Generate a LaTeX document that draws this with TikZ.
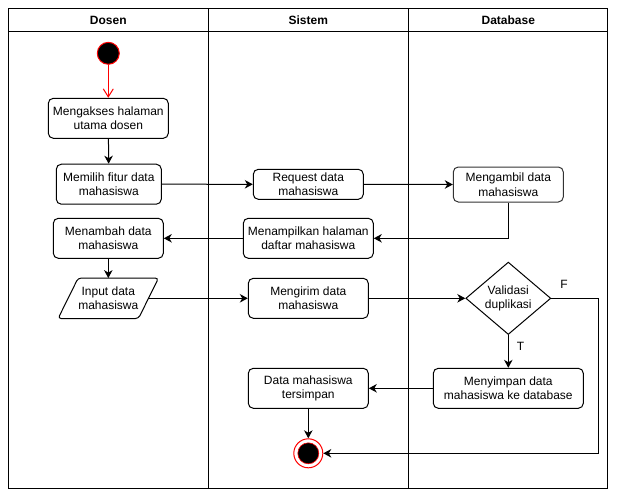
\documentclass[tikz,border=0pt]{standalone}
\usepackage{fontspec}
\setmainfont{Liberation Sans}
\usetikzlibrary{arrows.meta,shapes.geometric,calc}
\tikzset{
  act/.style={draw, rounded corners=5pt, line width=1pt, align=center, inner sep=0pt,
    font=\fontsize{12}{14.5}\selectfont},
  lane/.style={font=\bfseries\fontsize{12}{14}\selectfont},
  flow/.style={line width=1pt, -{Stealth[length=8pt,width=8.5pt,inset=2.5pt]}},
  lbl/.style={font=\fontsize{12}{14}\selectfont, inner sep=0pt},
}
\begin{document}
\begin{tikzpicture}[x=1pt,y=-1pt]
\useasboundingbox (0,0) rectangle (617,497);
% swimlanes
\draw[line width=1pt] (8.3,8.3) rectangle (607.7,488.3);
\draw[line width=1pt] (8.3,31.7) -- (607.7,31.7);
\draw[line width=1pt] (208.3,8.3) -- (208.3,488.3);
\draw[line width=1pt] (408.3,8.3) -- (408.3,488.3);
\node[lane] (hd) at (108.3,20) {Dosen};
\node[lane] (hs) at (308.3,20) {Sistem};
\node[lane] (hb) at (508.3,20) {Database};
% start
\node[circle, fill=black, draw=red, line width=1pt, minimum size=22pt, inner sep=0pt] (start) at (108.3,53.3) {};
% Dosen lane
\node[act, minimum width=120, minimum height=40] (akses) at (108.3,118.3) {Mengakses halaman\\utama dosen};
\node[act, minimum width=105, minimum height=40] (pilih) at (108.8,184.2) {Memilih fitur data\\mahasiswa};
\node[act, minimum width=110, minimum height=40] (tambah) at (108.3,238.3) {Menambah data\\mahasiswa};
\node[align=center, inner sep=0pt, minimum width=100, minimum height=40,
  font=\fontsize{12}{14.5}\selectfont] (input) at (108.3,298.3) {Input data\\mahasiswa};
\draw[line width=1pt, rounded corners=3pt]
  (input.south west) -- ($(input.north west)+(20,0)$) -- (input.north east)
  -- ($(input.south east)-(20,0)$) -- cycle;
\coordinate (inR) at ($(input.east)-(10,0)$);
% Sistem lane
\node[act, minimum width=110, minimum height=30] (req) at (308.3,184.3) {Request data\\mahasiswa};
\node[act, minimum width=130, minimum height=40] (tampil) at (308.3,238.3) {Menampilkan halaman\\daftar mahasiswa};
\node[act, minimum width=120, minimum height=40] (kirim) at (308.3,298.3) {Mengirim data\\mahasiswa};
\node[act, minimum width=120, minimum height=40] (tersimpan) at (308.3,388.3) {Data mahasiswa\\tersimpan};
\node[circle, draw=red, fill=white, line width=1pt, minimum size=29pt, inner sep=0pt] (end) at (308.3,453.3) {};
\node[circle, fill=black, draw=red, line width=0.6pt, minimum size=21pt, inner sep=0pt] (endin) at (308.3,453.3) {};
% Database lane
\node[act, draw=black!80, minimum width=110, minimum height=35] (ambil) at (508.3,184.5) {Mengambil data\\mahasiswa};
\node[diamond, draw, line width=1pt, minimum width=85, minimum height=70, inner sep=0pt, align=center,
  font=\fontsize{12}{14.5}\selectfont] (valid) at (508.3,298.3) {Validasi\\duplikasi};
\node[act, minimum width=150, minimum height=40] (simpan) at (508.3,388.3) {Menyimpan data\\mahasiswa ke database};
\coordinate (fc) at (598.3,298.3);
% connectors
\draw[red, line width=1pt, -{Straight Barb[length=8pt,width=10pt]}] (start) -- (akses);
\draw[flow] (akses) -- (pilih);
\draw[flow] (pilih.east) -- (req.west);
\draw[flow] (req.east) -- (ambil.west);
\draw[flow] (ambil.south) |- (tampil.east);
\draw[flow] (tampil.west) -- (tambah.east);
\draw[flow] (tambah.south) -- (input.north);
\draw[flow] (inR) -- (kirim.west);
\draw[flow] (kirim.east) -- (valid.west);
\draw[flow] (valid.east) -- node[lbl, pos=0.27, above=9pt] (fl) {F} (fc) |- (end.east);
\draw[flow] (valid.south) -- node[lbl, pos=0.36, right=8pt] (tl) {T} (simpan.north);
\draw[flow] (simpan.west) -- (tersimpan.east);
\draw[flow] (tersimpan.south) -- (end.north);
\end{tikzpicture}
\end{document}
